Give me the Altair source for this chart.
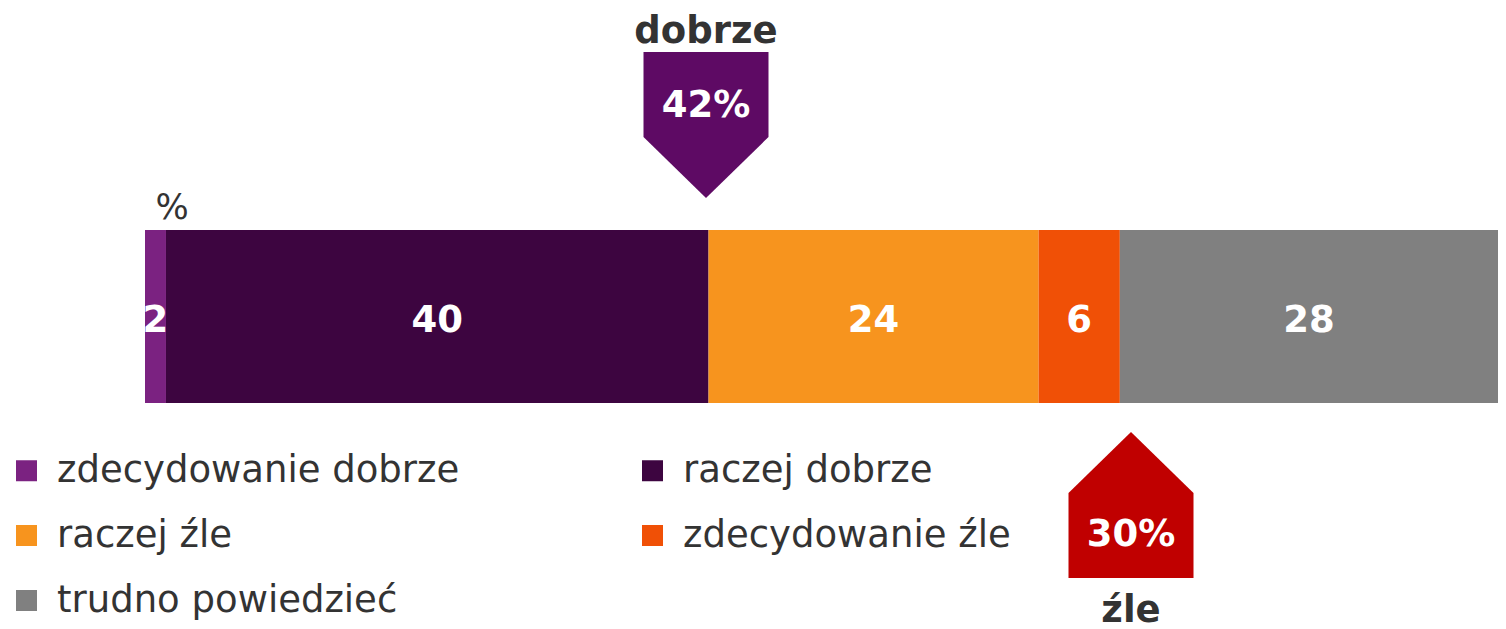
import altair as alt
import pandas as pd

# ---- data ----
categories = ["zdecydowanie dobrze", "raczej dobrze", "raczej źle", "zdecydowanie źle", "trudno powiedzieć"]
shares = [1.55, 40.1, 24.4, 6.0, 27.95]
labels = ["2", "40", "24", "6", "28"]
colors = ["#7B2281", "#3D0540", "#F7941E", "#F05006", "#808080"]

summary_names = ["dobrze", "źle"]
summary_values = ["42%", "30%"]
summary_colors = ["#5E0A64", "#C00000"]

# legend is filled column by column: reorder so rows read like the reference
legend_order = [0, 2, 4, 1, 3]
legend_domain = [categories[i] for i in legend_order]
legend_range = [colors[i] for i in legend_order]

# ---- layout ----
LEFT = 137
W, H = 1353, 621
FONT = "DejaVu Sans"
TXT = "#333333"
k = W / 100.0  # px per percent


def px_to_x(px):
    return (px - 8 - LEFT) / k


starts, ends = [], []
acc = 0.0
for s in shares:
    starts.append(acc)
    acc += s
    ends.append(acc)
bar_df = pd.DataFrame({
    "category": categories,
    "start": starts,
    "end": ends,
    "mid": [(a + b) / 2 for a, b in zip(starts, ends)],
    "label": labels,
})

xscale = alt.Scale(domain=[0, 100], nice=False, zero=False)
yscale = alt.Scale(domain=[0, H], reverse=True, nice=False, zero=False)


def ypos(v):
    return alt.YDatum(v, type="quantitative", scale=yscale, axis=None)


def xpos(v):
    return alt.XDatum(v, type="quantitative", scale=xscale, axis=None)


BAR_TOP, BAR_BOT = 222, 395

bars = alt.Chart(bar_df).mark_bar().encode(
    x=alt.X("start:Q", scale=xscale, axis=None),
    x2="end:Q",
    y=ypos(BAR_TOP),
    y2=alt.Y2Datum(BAR_BOT),
    color=alt.Color(
        "category:N",
        scale=alt.Scale(domain=legend_domain, range=legend_range),
        legend=alt.Legend(
            title=None, orient="none", legendX=-137, legendY=444, columns=2,
            symbolType="square", symbolSize=441, symbolStrokeWidth=0,
            labelFont=FONT, labelFontSize=37, labelColor=TXT, labelOffset=12,
            labelLimit=800, rowPadding=27, columnPadding=174, padding=0,
        ),
    ),
)

bar_text = alt.Chart(bar_df).mark_text(
    font=FONT, fontSize=37, fontWeight="bold", color="white",
    align="center", baseline="alphabetic",
).encode(
    x=alt.X("mid:Q", scale=xscale, axis=None),
    y=ypos(324),
    text="label:N",
)

pct = alt.Chart(pd.DataFrame({"t": ["%"]})).mark_text(
    font=FONT, fontSize=35, color=TXT, align="center", baseline="alphabetic",
).encode(x=xpos(px_to_x(172)), y=ypos(211), text="t:N")

# arrows (callouts)
hw = 62.5 / k
c1 = px_to_x(706)
c2 = px_to_x(1131)

down_df = pd.DataFrame({
    "x": [c1 - hw, c1, c1 + hw],
    "top": [44, 44, 44],
    "bot": [129, 190, 129],
})
up_df = pd.DataFrame({
    "x": [c2 - hw, c2, c2 + hw],
    "top": [485, 424, 485],
    "bot": [570, 570, 570],
})


def arrow(df, col):
    return alt.Chart(df).mark_area(color=col, opacity=1, interpolate="linear").encode(
        x=alt.X("x:Q", scale=xscale, axis=None),
        y=alt.Y("top:Q", scale=yscale, axis=None, stack=None),
        y2="bot:Q",
    )


def label(text, x, y, col):
    return alt.Chart(pd.DataFrame({"t": [text]})).mark_text(
        font=FONT, fontSize=37, fontWeight="bold", color=col,
        align="center", baseline="alphabetic",
    ).encode(x=xpos(x), y=ypos(y), text="t:N")


layers = [
    bars, bar_text, pct,
    arrow(down_df, summary_colors[0]),
    arrow(up_df, summary_colors[1]),
    label(summary_names[0], c1, 35, TXT),
    label(summary_values[0], c1, 109, "white"),
    label(summary_values[1], c2, 538, "white"),
    label(summary_names[1], c2, 614, TXT),
]

chart = alt.layer(*layers).properties(
    width=W, height=H,
    padding={"left": LEFT, "top": 0, "right": 0, "bottom": 0},
    autosize=alt.AutoSizeParams(type="none"),
).configure_view(stroke=None)

chart.save("out.html", embed_options={"renderer": "svg", "actions": False})
